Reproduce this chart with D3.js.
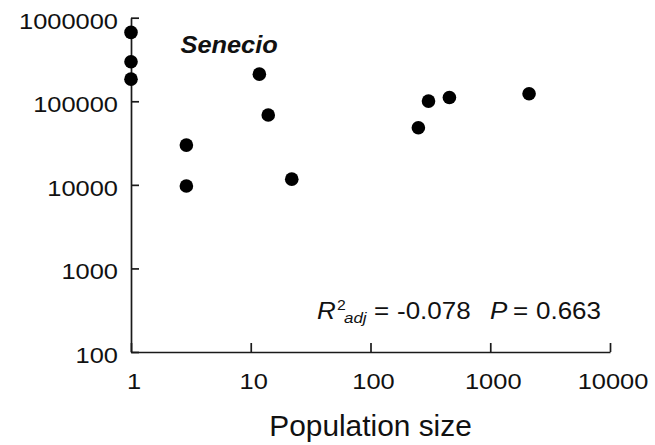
<!DOCTYPE html>
<html>
<head>
<meta charset="utf-8">
<script src="https://cdn.jsdelivr.net/npm/d3@7"></script>
<style>
  html, body { margin: 0; padding: 0; background: #fff; }
  svg { display: block; }
  text { font-family: "Liberation Sans", Arial, Helvetica, sans-serif; fill: #111; }
</style>
</head>
<body>
<svg id="chart" width="655" height="445"></svg>
<script>
// ---- data ----
const populationSize = [1, 1, 1, 2.9, 2.9, 11.8, 14, 22, 251, 305, 456, 2110];
const abundance = [667000, 297000, 184000, 29900, 9700, 211000, 68400, 11700, 48200, 100500, 111000, 123000];
const xTickValues = [1, 10, 100, 1000, 10000];
const yTickValues = [100, 1000, 10000, 100000, 1000000];
const speciesLabel = "Senecio";
const xAxisTitle = "Population size";
const statR2 = "-0.078";
const statP = "0.663";

// ---- layout ----
const svg = d3.select("#chart");
const x = d3.scaleLog().domain([1, 10000]).range([131, 610]);
const y = d3.scaleLog().domain([100, 1000000]).range([352, 17.7]);
const sx = 1.13;       // horizontal stretch of the glyphs in the original
const tickFont = 22.5;

const xAxis = d3.axisBottom(x)
  .tickValues(xTickValues)
  .tickFormat(d3.format("d"))
  .tickSizeInner(-9)
  .tickSizeOuter(0)
  .tickPadding(21);

const yAxis = d3.axisLeft(y)
  .tickValues(yTickValues)
  .tickFormat(d3.format("d"))
  .tickSizeInner(-8)
  .tickSizeOuter(0)
  .tickPadding(13);

const gx = svg.append("g").attr("transform", `translate(0,${y(100)})`).call(xAxis);
const gy = svg.append("g").attr("transform", `translate(${x(1)},0)`).call(yAxis);

[gx, gy].forEach(g => {
  g.select(".domain").attr("stroke", "#1a1a1a").attr("stroke-width", 1.7);
  g.selectAll(".tick line").attr("stroke", "#1a1a1a").attr("stroke-width", 1.7);
  g.selectAll(".tick text")
    .attr("font-size", tickFont)
    .attr("fill", "#111")
    .attr("font-family", "Liberation Sans, Arial, sans-serif");
});
gx.selectAll(".tick text")
  .attr("transform", `scale(${sx},1)`)
  .attr("x", 2.5 / sx);
gy.selectAll(".tick text")
  .attr("transform", `scale(${sx},1)`)
  .attr("x", -13 / sx)
  .attr("dy", "0.46em");

// ---- points ----
const pts = populationSize.map((p, i) => ({ p, a: abundance[i] }));
svg.append("g").selectAll("circle")
  .data(pts)
  .join("circle")
  .attr("cx", d => x(d.p))
  .attr("cy", d => y(d.a))
  .attr("r", 6.8)
  .attr("fill", "#000");

// ---- species label ----
svg.append("text")
  .attr("transform", `translate(180.5,53.3) scale(1.08,1)`)
  .attr("font-size", 23.5)
  .attr("font-weight", "bold")
  .attr("font-style", "italic")
  .text(speciesLabel);

// ---- axis title ----
svg.append("text")
  .attr("transform", `translate(${x(100)},436) scale(1.03,1)`)
  .attr("text-anchor", "middle")
  .attr("font-size", 29)
  .text(xAxisTitle);

// ---- statistics ----
const statBase = 319;
function piece(px, dy, size, italic, str) {
  svg.append("text")
    .attr("transform", `translate(${px},${statBase + dy}) scale(${sx},1)`)
    .attr("font-size", size)
    .attr("font-style", italic ? "italic" : "normal")
    .text(str);
}
piece(317, 0, 23, true, "R");
piece(337, -9, 14, false, "2");
piece(344, 4, 15, true, "adj");
piece(374, 0, 23, false, "=");
piece(397, 0, 23, false, statR2);
piece(490, 0, 23, true, "P");
piece(513, 0, 23, false, "=");
piece(536, 0, 23, false, statP);
</script>
</body>
</html>
